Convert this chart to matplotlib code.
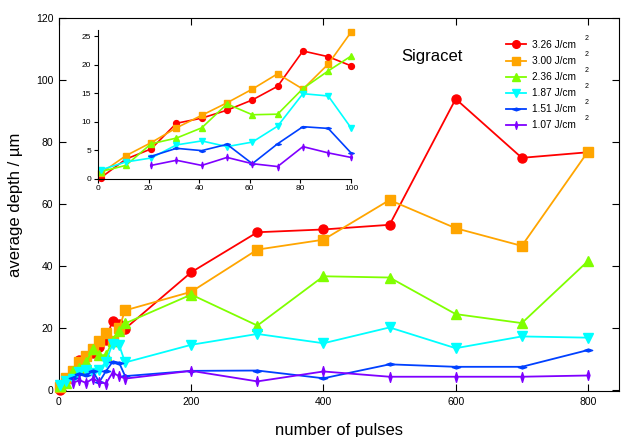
import matplotlib
matplotlib.use("Agg")
import matplotlib.pyplot as plt
from matplotlib.path import Path

plt.rcParams['font.family'] = ['Liberation Sans', 'DejaVu Sans']

# pulse numbers
pulses_small = [1, 11, 21, 31, 41, 51, 61, 71, 81, 91, 100]
pulses_large = [200, 300, 400, 500, 600, 700, 800]

# average depth (um) for each fluence
red_small = [0.1, 3.4, 5.2, 9.7, 10.6, 12.0, 13.8, 16.2, 22.4, 21.4, 19.8]
red_large = [38.0, 50.9, 51.8, 53.3, 93.9, 74.9, 76.7]
orange_small = [0.9, 4.0, 6.3, 8.9, 11.1, 13.3, 15.7, 18.4, 15.7, 20.1, 25.7]
orange_large = [31.7, 45.3, 48.5, 61.3, 52.2, 46.5, 76.9]
green_small = [1.2, 2.3, 6.1, 7.1, 8.9, 13.1, 11.2, 11.3, 15.8, 18.9, 21.5]
green_large = [30.8, 20.8, 36.7, 36.3, 24.5, 21.6, 41.6]
cyan_small = [1.5, 2.9, 3.6, 5.9, 6.6, 5.6, 6.4, 9.2, 14.9, 14.5, 8.9]
cyan_large = [14.6, 18.1, 15.1, 20.2, 13.5, 17.3, 16.9]
# the two lowest fluences start at 21 pulses
blue_small = [3.9, 5.3, 4.9, 6.0, 2.6, 6.1, 9.1, 8.8, 4.5]
blue_large = [6.2, 6.3, 3.8, 8.3, 7.5, 7.5, 12.9]
purple_small = [2.3, 3.2, 2.3, 3.7, 2.6, 2.1, 5.6, 4.5, 3.7]
purple_large = [6.2, 2.8, 6.0, 4.3, 4.3, 4.3, 4.7]

labels = ["3.26 J/cm", "3.00 J/cm", "2.36 J/cm", "1.87 J/cm", "1.51 J/cm", "1.07 J/cm"]
colors = ["#ff0000", "#ffa500", "#80ff00", "#00ffff", "#0040ff", "#7f00ff"]

# flat diamond for 1.51, thin upright diamond for 1.07
flat_diamond = Path([(-1, 0), (0, 0.35), (1, 0), (0, -0.35), (-1, 0)],
                    [Path.MOVETO, Path.LINETO, Path.LINETO, Path.LINETO, Path.CLOSEPOLY])
thin_diamond = Path([(0, 1), (0.3, 0), (0, -1), (-0.3, 0), (0, 1)],
                    [Path.MOVETO, Path.LINETO, Path.LINETO, Path.LINETO, Path.CLOSEPOLY])
markers = ["o", "s", "^", "v", flat_diamond, thin_diamond]
msizes = [6.5, 7, 7.5, 7.5, 6, 7]

series_small = [red_small, orange_small, green_small, cyan_small, blue_small, purple_small]
series_large = [red_large, orange_large, green_large, cyan_large, blue_large, purple_large]

fig = plt.figure(figsize=(6.21, 4.37), dpi=100)
ax = fig.add_axes([59 / 621, 46 / 437, 560 / 621, 373 / 437])

handles = []
for i in range(6):
    small = series_small[i]
    xs = pulses_small[len(pulses_small) - len(small):] + pulses_large
    ys = small + series_large[i]
    line, = ax.plot(xs, ys, color=colors[i], lw=1.3, marker=markers[i],
                    ms=msizes[i], mec=colors[i], mfc=colors[i], label=labels[i],
                    clip_on=False, zorder=3 + i)
    handles.append(line)

ax.set_xlim(0, 847)
ax.set_ylim(-0.3, 120)
ax.set_xticks([0, 200, 400, 600, 800])
ax.set_yticks([0, 20, 40, 60, 80, 100, 120])
ax.tick_params(direction="in", top=True, right=True, length=5, width=0.8,
               labelsize=7.5, pad=4)
for s in ax.spines.values():
    s.set_linewidth(0.8)
ax.set_xlabel("number of pulses", fontsize=12, labelpad=12)
ax.set_ylabel("average depth / µm", fontsize=12, labelpad=9)

fig.text(401 / 621, 1 - 56 / 437, "Sigracet", fontsize=12, va="center", ha="left")

leg = ax.legend(handles=handles, loc="upper left", bbox_to_anchor=(506 / 621, 1 - 40 / 437),
                bbox_transform=fig.transFigure, frameon=False, fontsize=7.3,
                handlelength=2.0, handletextpad=0.55, labelspacing=0.6,
                borderaxespad=0, borderpad=0)
for h in leg.legend_handles:
    h.set_markersize(5.5)

# superscript 2 placed far right of each legend entry
fig.canvas.draw()
inv = fig.transFigure.inverted()
for t in leg.get_texts():
    bb = t.get_window_extent()
    yc = inv.transform((0, (bb.y0 + bb.y1) / 2))[1]
    fig.text(585 / 621, yc + 7 / 437, "2", fontsize=5, ha="left", va="center")

# inset with the first 100 pulses
ins = fig.add_axes([98 / 621, 1 - 178.5 / 437, 253 / 621, 148 / 437])
ins.patch.set_alpha(0)
for i in range(6):
    small = series_small[i]
    xs = pulses_small[len(pulses_small) - len(small):]
    ins.plot(xs, small, color=colors[i], lw=1.2, marker=markers[i],
             ms=msizes[i] * 0.65, mec=colors[i], mfc=colors[i], clip_on=False)
ins.set_xlim(0, 100)
ins.set_ylim(0, 26)
ins.set_xticks([0, 20, 40, 60, 80, 100])
ins.set_yticks([0, 5, 10, 15, 20, 25])
ins.spines["top"].set_visible(False)
ins.spines["right"].set_visible(False)
for s in ins.spines.values():
    s.set_linewidth(0.8)
ins.tick_params(direction="out", length=3, width=0.8, labelsize=6, pad=2)

fig.savefig("out.png", dpi=100)
